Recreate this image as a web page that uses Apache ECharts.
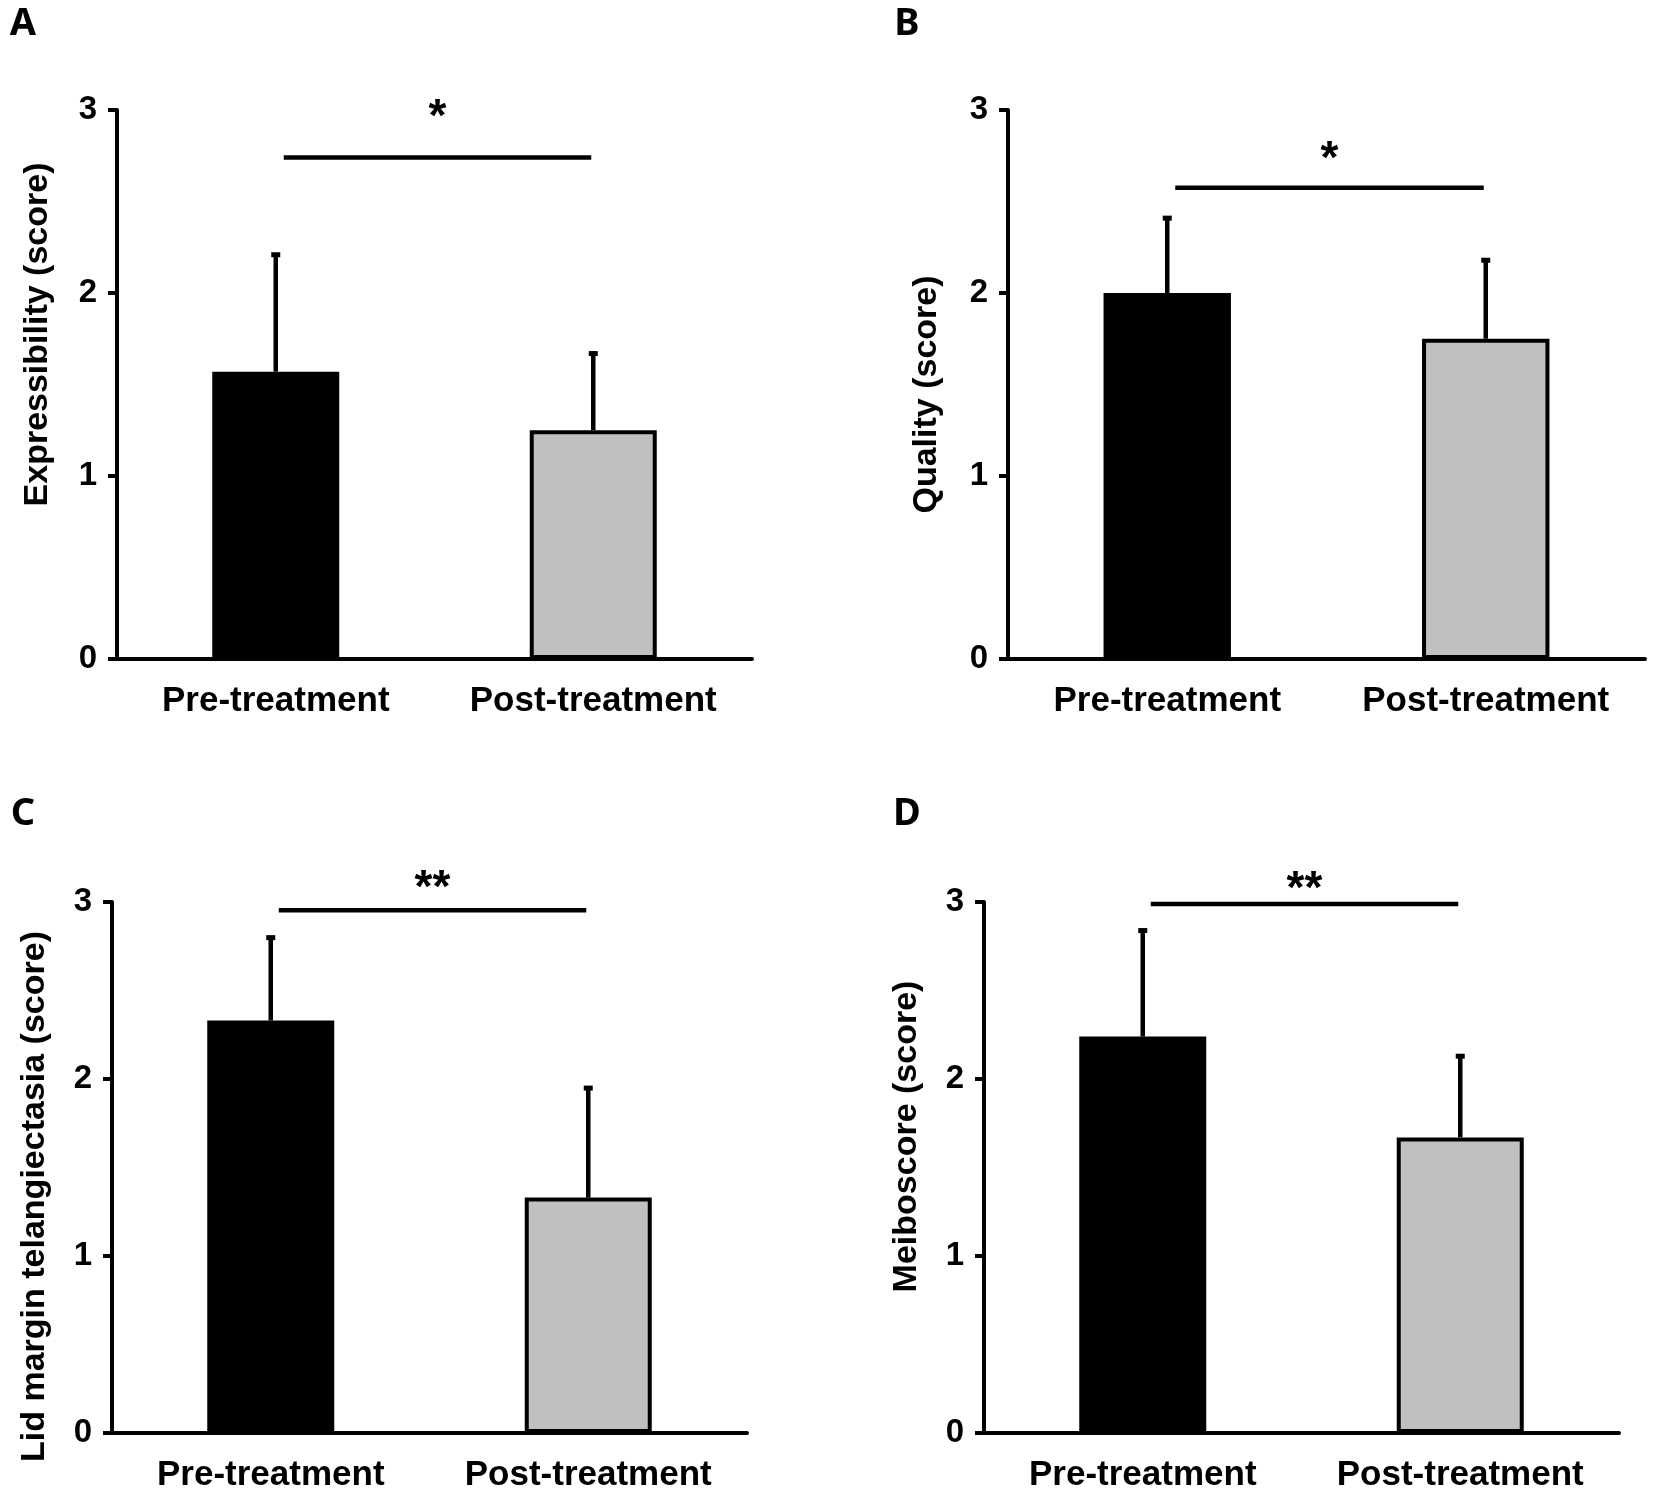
<!DOCTYPE html>
<html>
<head>
<meta charset="utf-8">
<script src="https://cdn.jsdelivr.net/npm/echarts@6/dist/echarts.min.js"></script>
<style>
  html, body { margin: 0; padding: 0; background: #fff; }
  #main { width: 1654px; height: 1493px; }
</style>
</head>
<body>
<div id="main"></div>
<script>
// categories shared by all four panels
var categories = ['Pre-treatment', 'Post-treatment'];

// A: expressibility
var meanA = [1.57, 1.25];
var sdA = [0.65, 0.43];
// B: quality
var meanB = [2.0, 1.75];
var sdB = [0.42, 0.44];
// C: lid margin telangiectasia
var meanC = [2.33, 1.33];
var sdC = [0.48, 0.63];
// D: meiboscore
var meanD = [2.24, 1.67];
var sdD = [0.61, 0.47];

var yTicks = [0, 1, 2, 3];
var panelNames = ['Expressibility (score)', 'Quality (score)', 'Lid margin telangiectasia (score)', 'Meiboscore (score)'];
var panelLetters = ['A', 'B', 'C', 'D'];
var sigLabels = ['*', '*', '**', '**'];
var sigLineY = [2.74, 2.575, 2.953, 2.988];
var sigStarY = [3.01, 2.777, 3.13, 3.12];

var means = [meanA, meanB, meanC, meanD];
var sds = [sdA, sdB, sdC, sdD];

// layout of each panel (pixels)
var grids = [
    { left: 117, top: 110, width: 635, height: 549 },
    { left: 1008, top: 110, width: 637, height: 549 },
    { left: 112, top: 902, width: 635, height: 532 },
    { left: 984, top: 902, width: 635, height: 532 }
];
var nameGaps = [62, 64, 60, 60];
var namePads = [100, -20, -58, 62];   // shifts y-axis title along the axis
var letterPos = [[23, 24], [907, 24], [23, 814], [907, 814]];

var barColors = ['#000000', '#c0c0c0'];
var FONT = '"Liberation Sans", Arial, sans-serif';

var option = {
    backgroundColor: '#fff',
    animation: false,
    grid: [],
    xAxis: [],
    yAxis: [],
    series: [],
    graphic: []
};

for (let i = 0; i < 4; i++) {
    option.grid.push(grids[i]);
    option.xAxis.push({
        type: 'category',
        gridIndex: i,
        data: categories,
        axisLine: { lineStyle: { color: '#000', width: 4 } },
        axisTick: { length: 9, lineStyle: { color: '#000', width: 4 } },
        axisLabel: { interval: 0, color: '#000', fontFamily: FONT, fontWeight: 'bold', fontSize: 35, margin: 25 }
    });
    option.yAxis.push({
        type: 'value',
        gridIndex: i,
        min: yTicks[0],
        max: yTicks[yTicks.length - 1],
        interval: 1,
        name: panelNames[i],
        nameLocation: 'middle',
        nameGap: nameGaps[i],
        nameTextStyle: {
            color: '#000', fontFamily: FONT, fontWeight: 'bold', fontSize: 34,
            padding: namePads[i] > 0 ? [0, 0, 0, namePads[i]] : [0, -namePads[i], 0, 0]
        },
        splitLine: { show: false },
        axisLine: { show: true, lineStyle: { color: '#000', width: 4 } },
        axisTick: { show: true, length: 9, lineStyle: { color: '#000', width: 4 } },
        axisLabel: { color: '#000', fontFamily: FONT, fontWeight: 'bold', fontSize: 33, margin: 20 }
    });

    // bars
    option.series.push({
        type: 'bar',
        xAxisIndex: i,
        yAxisIndex: i,
        barWidth: '40%',
        data: means[i].map(function (v, k) {
            return {
                value: v,
                itemStyle: {
                    color: barColors[k],
                    borderColor: '#000',
                    borderWidth: k === 1 ? 4 : 0
                }
            };
        })
    });

    // upper error bars
    option.series.push({
        type: 'custom',
        xAxisIndex: i,
        yAxisIndex: i,
        z: 3,
        data: means[i].map(function (v, k) { return [k, v, sds[i][k]]; }),
        renderItem: function (params, api) {
            var x = api.value(0), m = api.value(1), e = api.value(2);
            var p0 = api.coord([x, m]);
            var p1 = api.coord([x, m + e]);
            var st = { stroke: '#000', lineWidth: 4.5 };
            return {
                type: 'group',
                children: [
                    { type: 'line', shape: { x1: p0[0], y1: p0[1], x2: p1[0], y2: p1[1] + 2 }, style: st },
                    { type: 'line', shape: { x1: p1[0] - 4.5, y1: p1[1] + 2, x2: p1[0] + 4.5, y2: p1[1] + 2 }, style: { stroke: '#000', lineWidth: 5 } }
                ]
            };
        }
    });

    // significance bracket + stars
    option.series.push({
        type: 'custom',
        xAxisIndex: i,
        yAxisIndex: i,
        z: 3,
        clip: false,
        data: [[0, sigLineY[i], sigStarY[i]]],
        renderItem: (function (label) {
            return function (params, api) {
                var y = api.value(1), ys = api.value(2);
                var p0 = api.coord([0, y]);
                var p1 = api.coord([1, y]);
                var ps = api.coord([0.5, ys]);
                return {
                    type: 'group',
                    children: [
                        { type: 'line', shape: { x1: p0[0] + 8, y1: p0[1], x2: p1[0] - 2, y2: p1[1] }, style: { stroke: '#000', lineWidth: 4.5 } },
                        { type: 'text', x: (p0[0] + p1[0]) / 2 + 3, y: ps[1] + 10,
                          style: { text: label, fill: '#000', font: 'bold 46px ' + FONT, align: 'center', verticalAlign: 'middle' } }
                    ]
                };
            };
        })(sigLabels[i])
    });

    option.graphic.push({
        type: 'text',
        x: letterPos[i][0],
        y: letterPos[i][1],
        style: {
            text: panelLetters[i],
            fill: '#000',
            font: 'bold 38px "Noto Sans", "DejaVu Sans", sans-serif',
            align: 'center',
            verticalAlign: 'middle'
        }
    });
}

var chart = echarts.init(document.getElementById('main'));
chart.setOption(option);
</script>
</body>
</html>
